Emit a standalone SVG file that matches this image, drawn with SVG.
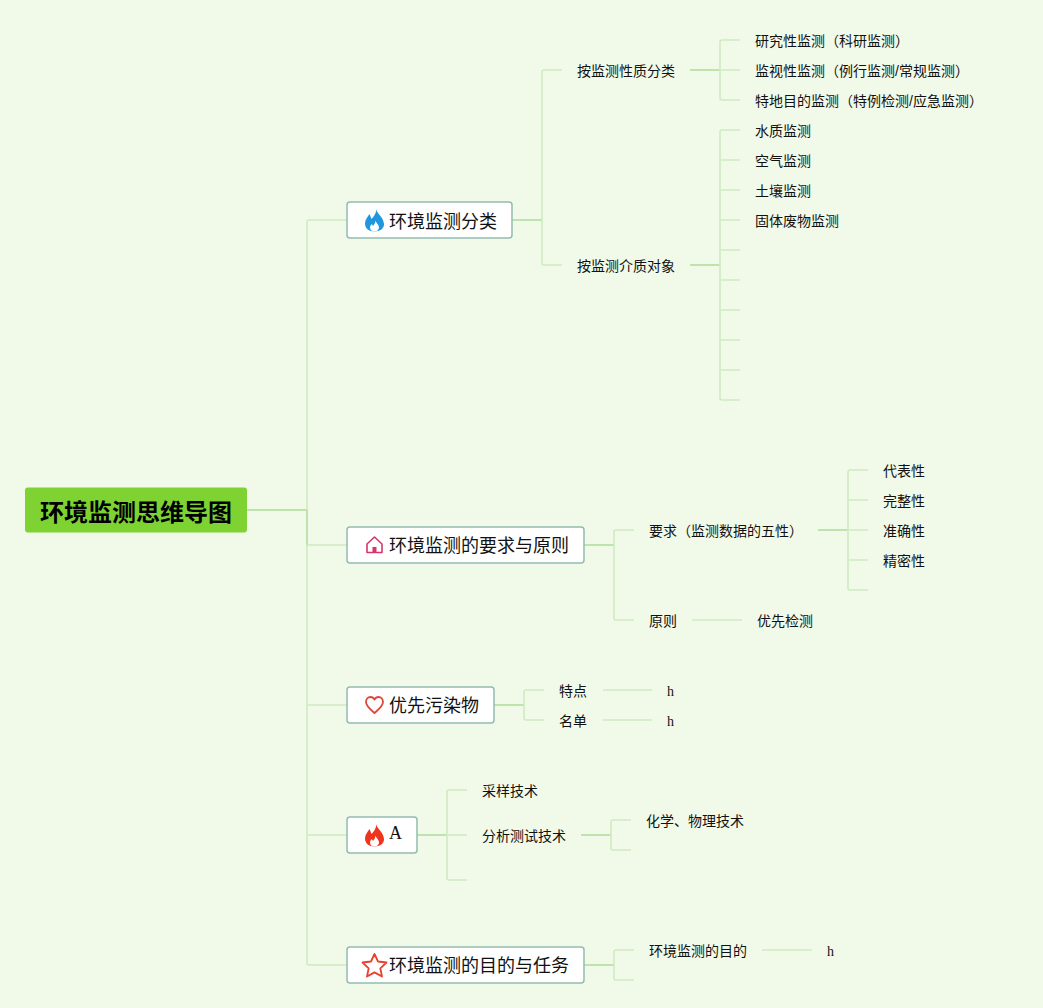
<svg xmlns="http://www.w3.org/2000/svg" width="1043" height="1008" viewBox="0 0 1043 1008">
<style>
.bg{fill:#f1f9e8}
.c{fill:none;stroke:#d0eac1;stroke-width:1.600;stroke-linejoin:round}
.d{fill:none;stroke:#bfe3ad;stroke-width:2}
.box{fill:#fff;stroke:#93bcae;stroke-width:1.500}
text{font-family:"Liberation Sans","Noto Sans CJK SC",sans-serif;fill:#111}
.s{font-size:14px}
.m{font-size:18px}
.r{font-size:24px;font-weight:700;fill:#000}
.l{font-family:"Liberation Serif",serif}
.i{fill:#fff}
</style>
<defs>
<path id="flame" d="M376 209C376.500 213 383.500 217 384 224C384.300 228.500 380 231.500 374.500 231.500C369 231.500 365 228.500 365 223.500C365 219.500 367.500 217 369.500 214C370.300 215.800 370.800 217.500 371.500 219C374 216.500 376.500 213 376 209Z"/>
<path id="flamein" d="M375.500 220.500C376 223 379.500 225 379 228C378.500 230.500 376.500 231.500 374.500 231.500C372 231.500 370 230 370 227.500C370 226 371 225 371.800 224C372.200 224.800 372.600 225.400 373 226C374.300 224.500 375.500 222.500 375.500 220.500Z"/>
</defs>
<rect class="bg" width="1043" height="1008"/>
<g id="connectors">
<path class="d" d="M247 510H307V545"/>
<path class="c" d="M307 510V222Q307 220 309 220H347M307 545H347M307 545V963Q307 965 309 965H347M307 705H347M307 835H347"/>
<path class="d" d="M512 220H542"/>
<path class="c" d="M562 70H544Q542 70 542 72V263Q542 265 544 265H562"/>
<path class="d" d="M690 70H720M690 265H720"/>
<path class="c" d="M740 40H722Q720 40 720 42V98Q720 100 722 100H740M720 70H740"/>
<path class="c" d="M740 130H722Q720 130 720 132V398Q720 400 722 400H740M720 160H740M720 190H740M720 220H740M720 250H740M720 280H740M720 310H740M720 340H740M720 370H740"/>
<path class="d" d="M584 545H614"/>
<path class="c" d="M634 530H616Q614 530 614 532V618Q614 620 616 620H634"/>
<path class="d" d="M818 530H848"/>
<path class="c" d="M868 470H850Q848 470 848 472V588Q848 590 850 590H868M848 500H868M848 530H868M848 560H868"/>
<path class="c" d="M692 620H742"/>
<path class="d" d="M494 705H524"/>
<path class="c" d="M544 690H526Q524 690 524 692V718Q524 720 526 720H544"/>
<path class="c" d="M603 690H652M603 720H652"/>
<path class="d" d="M417 835H447"/>
<path class="c" d="M467 790H449Q447 790 447 792V878Q447 880 449 880H467M447 835H467"/>
<path class="d" d="M581 835H611"/>
<path class="c" d="M631 820H613Q611 820 611 822V848Q611 850 613 850H631"/>
<path class="d" d="M584 965H614"/>
<path class="c" d="M634 950H616Q614 950 614 952V978Q614 980 616 980H634"/>
<path class="c" d="M762 950H812"/>
</g>
<g id="root"><rect x="25" y="487.500" width="222" height="45" rx="3" fill="#7ed332"/><text class="r" x="40" y="521">环境监测思维导图</text></g>
<g id="n1"><rect class="box" x="347" y="202" width="165" height="36" rx="3"/>
<use href="#flame" fill="#1f97e0"/><use href="#flamein" class="i"/>
<text class="m" x="389" y="228">环境监测分类</text></g>
<g id="n1a"><text class="s" x="577" y="76">按监测性质分类</text></g>
<g id="n1b"><text class="s" x="577" y="271">按监测介质对象</text></g>
<g id="n1a1"><text class="s" x="755" y="46">研究性监测（科研监测）</text></g>
<g id="n1a2"><text class="s" x="755" y="76">监视性监测（例行监测/常规监测）</text></g>
<g id="n1a3"><text class="s" x="755" y="106">特地目的监测（特例检测/应急监测）</text></g>
<g id="n1b1"><text class="s" x="755" y="136">水质监测</text></g>
<g id="n1b2"><text class="s" x="755" y="166">空气监测</text></g>
<g id="n1b3"><text class="s" x="755" y="196">土壤监测</text></g>
<g id="n1b4"><text class="s" x="755" y="226">固体废物监测</text></g>
<g id="n2"><rect class="box" x="347" y="527" width="237" height="36" rx="3"/>
<path fill="none" stroke="#d8366a" stroke-width="1.600" stroke-linejoin="round" d="M367 544L374.500 537L382 544V552.500H367Z"/><rect x="372.500" y="547" width="4" height="5.500" fill="#d8366a"/>
<text class="m" x="389" y="552">环境监测的要求与原则</text></g>
<g id="n2a"><text class="s" x="649" y="536">要求（监测数据的五性）</text></g>
<g id="n2b"><text class="s" x="649" y="626">原则</text></g>
<g id="n2a1"><text class="s" x="883" y="476">代表性</text></g>
<g id="n2a2"><text class="s" x="883" y="506">完整性</text></g>
<g id="n2a3"><text class="s" x="883" y="536">准确性</text></g>
<g id="n2a4"><text class="s" x="883" y="566">精密性</text></g>
<g id="n2b1"><text class="s" x="757" y="626">优先检测</text></g>
<g id="n3"><rect class="box" x="347" y="687" width="147" height="36" rx="3"/>
<path fill="none" stroke="#d9483b" stroke-width="1.800" stroke-linejoin="round" d="M374.500 713C370 709 366 706 366 702C366 699 368 697 370.500 697C372.300 697 373.700 698 374.500 699.500C375.300 698 376.700 697 378.500 697C381 697 383 699 383 702C383 706 379 709 374.500 713Z"/>
<text class="m" x="389" y="712">优先污染物</text></g>
<g id="n3a"><text class="s" x="559" y="696">特点</text></g>
<g id="n3b"><text class="s" x="559" y="726">名单</text></g>
<g id="n3a1"><text class="l" font-size="14" x="667" y="696">h</text></g>
<g id="n3b1"><text class="l" font-size="14" x="667" y="726">h</text></g>
<g id="n4"><rect class="box" x="347" y="817" width="70" height="36" rx="3"/>
<g transform="translate(0,615)"><use href="#flame" fill="#f0341c"/><use href="#flamein" class="i"/></g>
<text class="l" font-size="18" x="389" y="839">A</text></g>
<g id="n4a"><text class="s" x="482" y="796">采样技术</text></g>
<g id="n4b"><text class="s" x="482" y="841">分析测试技术</text></g>
<g id="n4b1"><text class="s" x="646" y="826">化学、物理技术</text></g>
<g id="n5"><rect class="box" x="347" y="947" width="237" height="36" rx="3"/>
<path fill="none" stroke="#e8402f" stroke-width="1.800" stroke-linejoin="round" d="M374.500 954L378 961.500L386.500 962.500L380.300 968.300L382 976.500L374.500 972.400L367 976.500L368.700 968.300L362.500 962.500L371 961.500Z"/>
<text class="m" x="389" y="972">环境监测的目的与任务</text></g>
<g id="n5a"><text class="s" x="649" y="956">环境监测的目的</text></g>
<g id="n5a1"><text class="l" font-size="14" x="827" y="956">h</text></g>
</svg>
